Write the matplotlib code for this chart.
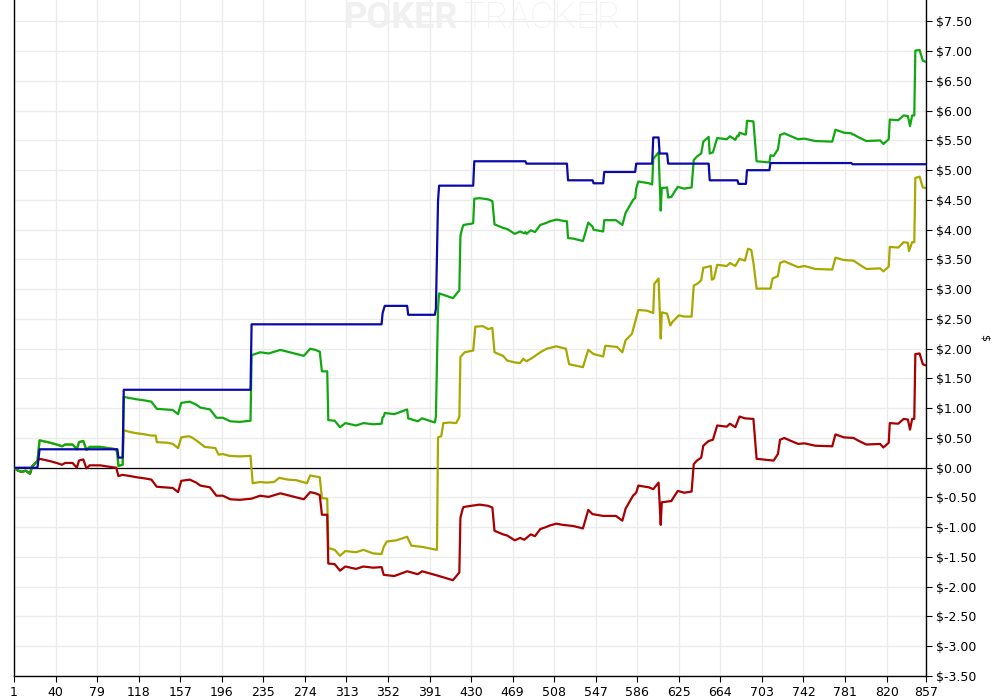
import matplotlib
matplotlib.use('Agg')
import matplotlib.pyplot as plt

# ---- data (hand number, dollars) ----
blue_hands = [1, 23, 25, 98, 99, 103, 104, 223, 224, 346, 347, 349, 370, 371, 396, 397, 399, 400,
              432, 433, 481, 482, 520, 521, 544, 545, 554, 555, 584, 585, 600, 601, 606, 607, 614,
              615, 653, 654, 680, 681, 688, 689, 710, 711, 787, 788, 857]
blue_vals = [0.00, 0.00, 0.31, 0.31, 0.17, 0.17, 1.31, 1.31, 2.41, 2.41, 2.60, 2.72, 2.72, 2.57,
             2.57, 2.67, 4.49, 4.74, 4.74, 5.15, 5.15, 5.11, 5.11, 4.83, 4.83, 4.78, 4.78, 4.97,
             4.97, 5.11, 5.11, 5.55, 5.55, 5.28, 5.28, 5.11, 5.11, 4.83, 4.83, 4.77, 4.77, 5.00,
             5.00, 5.12, 5.12, 5.10, 5.10]

red_hands = [1, 5, 8, 12, 16, 18, 21, 25, 35, 41, 46, 49, 56, 60, 62, 66, 69, 72, 82, 89, 97, 99,
             103, 110, 116, 124, 130, 135, 150, 155, 158, 166, 172, 176, 185, 191, 197, 204, 213,
             218, 224, 232, 240, 251, 262, 273, 279, 284, 288, 290, 295, 296, 302, 307, 312, 322,
             329, 338, 346, 348, 358, 370, 380, 384, 398, 413, 419, 420, 422, 423, 430, 438, 446,
             450, 452, 460, 464, 471, 476, 480, 486, 490, 495, 500, 504, 510, 516, 526, 535, 540,
             544, 554, 566, 572, 575, 582, 585, 587, 597, 601, 606, 608, 609, 618, 620, 624, 630,
             637, 639, 642, 646, 648, 653, 657, 661, 670, 673, 678, 682, 687, 695, 698, 714, 718,
             720, 724, 729, 737, 743, 753, 769, 772, 780, 789, 794, 801, 814, 817, 822, 823, 831,
             836, 840, 842, 844, 846, 847, 851, 854, 857]
red_vals = [0.00, -0.05, -0.07, -0.05, -0.10, 0.02, 0.08, 0.15, 0.11, 0.08, 0.05, 0.08, 0.08, 0.00,
            0.12, 0.14, -0.01, 0.04, 0.04, 0.02, 0.00, -0.14, -0.12, -0.14, -0.16, -0.18, -0.20,
            -0.32, -0.34, -0.41, -0.22, -0.20, -0.25, -0.30, -0.33, -0.47, -0.47, -0.53, -0.54,
            -0.53, -0.52, -0.47, -0.49, -0.43, -0.48, -0.53, -0.41, -0.43, -0.46, -0.79, -0.79,
            -1.61, -1.62, -1.73, -1.66, -1.70, -1.66, -1.68, -1.67, -1.80, -1.82, -1.74, -1.79,
            -1.74, -1.81, -1.89, -1.76, -0.84, -0.70, -0.66, -0.64, -0.62, -0.64, -0.67, -1.06,
            -1.12, -1.14, -1.22, -1.18, -1.21, -1.12, -1.15, -1.03, -1.00, -0.97, -0.94, -0.96,
            -0.98, -1.02, -0.71, -0.78, -0.81, -0.81, -0.89, -0.69, -0.47, -0.42, -0.30, -0.33,
            -0.36, -0.25, -0.96, -0.58, -0.56, -0.50, -0.39, -0.42, -0.40, 0.06, 0.12, 0.17, 0.37,
            0.45, 0.47, 0.71, 0.69, 0.74, 0.68, 0.86, 0.83, 0.82, 0.15, 0.12, 0.23, 0.47, 0.50,
            0.46, 0.40, 0.41, 0.37, 0.36, 0.56, 0.51, 0.50, 0.45, 0.39, 0.40, 0.34, 0.42, 0.75,
            0.74, 0.82, 0.81, 0.64, 0.82, 0.82, 1.91, 1.92, 1.74, 1.72]

green_hands = [1, 5, 8, 12, 16, 18, 21, 23, 25, 35, 41, 46, 49, 56, 60, 62, 66, 69, 72, 82, 89, 97,
               98, 99, 103, 104, 110, 116, 124, 130, 135, 150, 155, 158, 166, 172, 176, 185, 191,
               197, 204, 213, 218, 223, 224, 232, 240, 251, 262, 273, 279, 284, 288, 290, 295, 296,
               302, 307, 312, 322, 329, 338, 346, 347, 348, 349, 358, 370, 371, 380, 384, 396, 397,
               399, 400, 413, 419, 420, 422, 423, 430, 432, 433, 438, 446, 450, 452, 460, 464, 471,
               476, 480, 481, 482, 486, 490, 495, 500, 504, 510, 516, 520, 521, 526, 535, 540, 544,
               545, 554, 555, 566, 572, 575, 582, 584, 585, 587, 597, 600, 601, 606, 608, 609, 614,
               615, 618, 620, 624, 630, 637, 639, 642, 646, 648, 653, 654, 657, 661, 670, 673, 678,
               680, 681, 682, 687, 688, 689, 695, 698, 710, 711, 714, 718, 720, 724, 729, 737, 743,
               753, 769, 772, 780, 787, 788, 789, 794, 801, 814, 817, 822, 823, 831, 836, 840, 842,
               844, 846, 847, 851, 854, 857]
green_vals = [0.00, -0.05, -0.07, -0.05, -0.10, 0.02, 0.08, 0.11, 0.46, 0.42, 0.39, 0.36, 0.39,
              0.39, 0.31, 0.43, 0.45, 0.30, 0.35, 0.35, 0.33, 0.31, 0.24, 0.03, 0.05, 1.19, 1.17,
              1.15, 1.13, 1.11, 0.99, 0.97, 0.90, 1.09, 1.11, 1.06, 1.01, 0.98, 0.84, 0.84, 0.78,
              0.77, 0.78, 0.79, 1.89, 1.94, 1.92, 1.98, 1.93, 1.88, 2.00, 1.98, 1.95, 1.62, 1.62,
              0.80, 0.79, 0.68, 0.75, 0.71, 0.75, 0.73, 0.74, 0.85, 0.86, 0.92, 0.90, 0.98, 0.83,
              0.78, 0.83, 0.76, 0.86, 2.68, 2.93, 2.85, 2.98, 3.90, 4.04, 4.08, 4.10, 4.11, 4.52,
              4.53, 4.51, 4.48, 4.09, 4.03, 4.01, 3.93, 3.97, 3.94, 3.96, 3.93, 3.99, 3.96, 4.08,
              4.11, 4.14, 4.17, 4.15, 4.14, 3.86, 3.85, 3.81, 4.12, 4.05, 4.00, 3.97, 4.16, 4.16,
              4.08, 4.28, 4.50, 4.53, 4.69, 4.81, 4.78, 4.76, 5.19, 5.30, 4.32, 4.70, 4.71, 4.54,
              4.55, 4.61, 4.72, 4.69, 4.71, 5.17, 5.23, 5.28, 5.48, 5.56, 5.28, 5.30, 5.54, 5.52,
              5.57, 5.51, 5.58, 5.57, 5.63, 5.60, 5.60, 5.83, 5.82, 5.15, 5.13, 5.25, 5.24, 5.35,
              5.59, 5.62, 5.58, 5.52, 5.53, 5.49, 5.48, 5.68, 5.63, 5.62, 5.60, 5.60, 5.55, 5.49,
              5.50, 5.44, 5.52, 5.85, 5.84, 5.92, 5.91, 5.74, 5.92, 5.92, 7.01, 7.02, 6.84, 6.82]

olive_hands = [1, 5, 8, 12, 16, 18, 21, 23, 25, 35, 41, 46, 49, 56, 60, 62, 66, 69, 72, 82, 89, 97,
               98, 99, 103, 104, 110, 116, 124, 130, 134, 135, 145, 150, 155, 158, 165, 168, 175,
               180, 190, 193, 197, 203, 213, 223, 225, 232, 238, 245, 250, 258, 266, 276, 279, 288,
               290, 295, 296, 302, 307, 312, 322, 329, 338, 346, 348, 351, 360, 370, 374, 384, 398,
               399, 402, 404, 410, 416, 419, 420, 424, 432, 434, 441, 446, 450, 452, 460, 464, 471,
               476, 479, 482, 487, 495, 501, 510, 519, 522, 535, 540, 545, 554, 556, 567, 572, 575,
               581, 584, 587, 595, 601, 602, 606, 608, 609, 614, 617, 619, 625, 630, 637, 639, 643,
               646, 648, 653, 655, 656, 658, 661, 670, 673, 678, 682, 687, 690, 693, 695, 698, 711,
               713, 718, 720, 724, 729, 737, 743, 753, 769, 772, 780, 789, 794, 801, 814, 817, 822,
               823, 831, 836, 840, 841, 844, 846, 847, 851, 854, 857]
olive_vals = [0.00, -0.05, -0.07, -0.05, -0.10, 0.02, 0.08, 0.11, 0.46, 0.42, 0.39, 0.36, 0.39,
              0.39, 0.31, 0.43, 0.45, 0.30, 0.35, 0.35, 0.33, 0.31, 0.24, 0.03, 0.05, 0.63, 0.60,
              0.58, 0.56, 0.54, 0.54, 0.43, 0.42, 0.40, 0.33, 0.51, 0.53, 0.51, 0.42, 0.35, 0.33,
              0.22, 0.23, 0.20, 0.19, 0.20, -0.26, -0.24, -0.25, -0.24, -0.17, -0.20, -0.21, -0.26,
              -0.13, -0.16, -0.51, -0.52, -1.35, -1.38, -1.48, -1.40, -1.42, -1.38, -1.44, -1.45,
              -1.33, -1.24, -1.22, -1.16, -1.31, -1.33, -1.38, 0.51, 0.53, 0.75, 0.76, 0.75, 0.85,
              1.86, 1.94, 1.97, 2.37, 2.38, 2.33, 2.35, 1.94, 1.88, 1.80, 1.77, 1.76, 1.83, 1.79,
              1.84, 1.94, 2.00, 2.04, 2.00, 1.74, 1.69, 1.98, 1.91, 1.87, 2.05, 2.03, 1.94, 2.14,
              2.25, 2.45, 2.65, 2.64, 2.60, 3.09, 3.18, 2.17, 2.61, 2.59, 2.39, 2.45, 2.56, 2.54,
              2.54, 3.06, 3.10, 3.15, 3.36, 3.38, 3.39, 3.16, 3.18, 3.41, 3.39, 3.44, 3.39, 3.51,
              3.48, 3.68, 3.66, 3.45, 3.01, 3.01, 3.18, 3.22, 3.44, 3.47, 3.43, 3.37, 3.39, 3.34,
              3.33, 3.53, 3.49, 3.48, 3.42, 3.34, 3.35, 3.30, 3.38, 3.71, 3.70, 3.79, 3.78, 3.64,
              3.79, 3.79, 4.87, 4.89, 4.71, 4.70]

x_ticks = [1, 40, 79, 118, 157, 196, 235, 274, 313, 352, 391, 430, 469, 508, 547, 586, 625, 664,
           703, 742, 781, 820, 857]
y_ticks = [-3.5, -3.0, -2.5, -2.0, -1.5, -1.0, -0.5, 0.0, 0.5, 1.0, 1.5, 2.0, 2.5, 3.0, 3.5, 4.0,
           4.5, 5.0, 5.5, 6.0, 6.5, 7.0, 7.5]

# ---- figure ----
W, H = 999, 698
fig = plt.figure(figsize=(W / 100, H / 100), dpi=100)
fig.patch.set_facecolor('white')
ax = fig.add_axes([14 / W, 22 / H, 912 / W, 676 / H])

# watermark
fig.text(458 / W, 1 - 28 / H, 'POKER', fontsize=26, fontweight='bold', color='#f0f0f0',
         ha='right', va='baseline', family='Roboto', zorder=0)
fig.text(464 / W, 1 - 28 / H, 'TRACKER', fontsize=26, fontweight='light', color='#f2f2f2',
         ha='left', va='baseline', family='Roboto', zorder=0)

ax.set_xlim(1, 857)
ax.set_ylim(-3.5, 7.86)
ax.set_facecolor('none')

ax.set_xticks(x_ticks)
ax.set_xticklabels([str(t) for t in x_ticks])
ax.set_yticks(y_ticks)
ax.set_yticklabels([f"${v:.2f}" for v in y_ticks])

ax.grid(True, color='#ebebeb', linewidth=1.0, zorder=0)
ax.set_axisbelow(True)

ax.axhline(0, color='black', linewidth=0.9, zorder=1)

ax.plot(olive_hands, olive_vals, color='#a8a800', linewidth=1.6, zorder=2)
ax.plot(red_hands, red_vals, color='#a80000', linewidth=1.6, zorder=3)
ax.plot(green_hands, green_vals, color='#10a810', linewidth=1.6, zorder=4)
ax.plot(blue_hands, blue_vals, color='#0a0aa8', linewidth=1.6, zorder=5)

ax.spines['top'].set_visible(False)
for s in ['left', 'right', 'bottom']:
    ax.spines[s].set_color('black')
    ax.spines[s].set_linewidth(1.0)

ax.yaxis.tick_right()
ax.yaxis.set_label_position('right')
ax.set_ylabel('$', fontsize=8, labelpad=6, rotation=270, va='center')
ax.tick_params(axis='y', which='both', direction='out', length=4, labelsize=9, pad=3,
               right=True, left=False)
ax.tick_params(axis='x', direction='out', length=4, labelsize=9, pad=3)

fig.savefig('out.png', dpi=100)
